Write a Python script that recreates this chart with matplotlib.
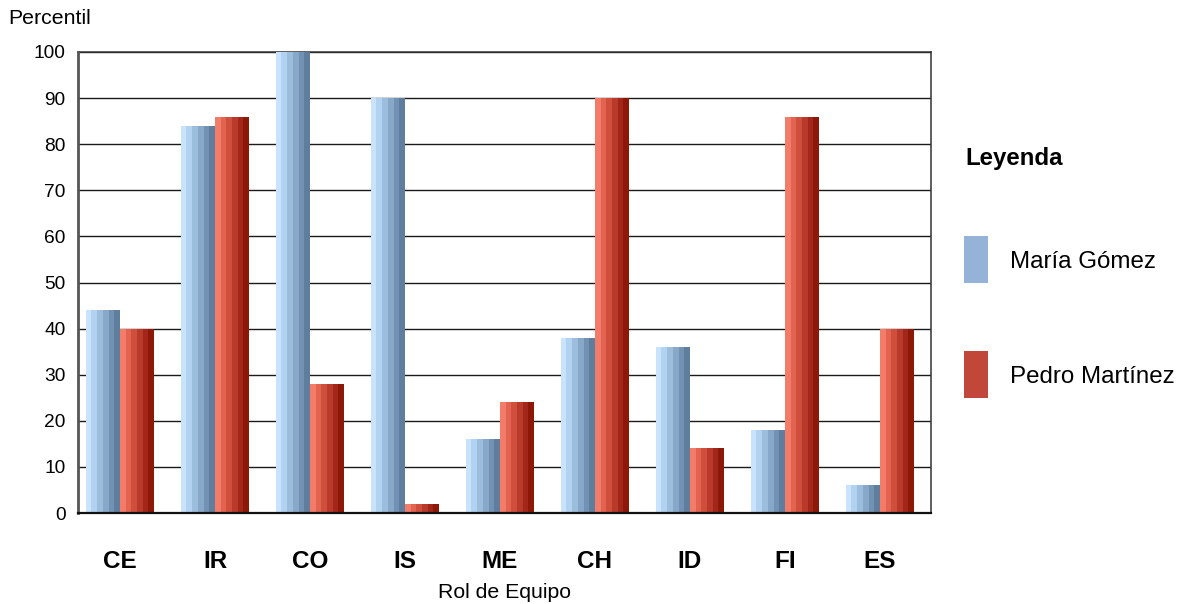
import matplotlib
matplotlib.use("Agg")
import matplotlib.pyplot as plt
from matplotlib.patches import Rectangle
import numpy as np

plt.rcParams['font.family'] = ['Liberation Sans', 'DejaVu Sans']

categories = ["CE", "IR", "CO", "IS", "ME", "CH", "ID", "FI", "ES"]
maria = [44, 84, 100, 90, 16, 38, 36, 18, 6]
pedro = [40, 86, 28, 2, 24, 90, 14, 86, 40]
series_names = ["María Gómez", "Pedro Martínez"]
yticks = list(range(0, 101, 10))

blue_stripes = ["#c8e3fb", "#b2d2f1", "#9dbddd", "#88a8c9", "#7392b3", "#5f7e9e"]
red_stripes = ["#f27b6a", "#e2634f", "#d04f3c", "#b9392a", "#a2271a", "#8e1808"]

fig = plt.figure(figsize=(11.79, 6.04), dpi=100)
ax = fig.add_axes([78/1179, 91/604, 853/1179, 461/604])

x = np.arange(len(categories))
bw = 0.36
n = len(blue_stripes)
sw = bw / n

for vals, stripes, sign in [(maria, blue_stripes, -1), (pedro, red_stripes, 1)]:
    start = x - bw if sign < 0 else x
    for k, c in enumerate(stripes):
        ax.bar(start + (k + 0.5) * sw, vals, width=sw * 1.02, color=c,
               edgecolor='none', zorder=3)

ax.set_xlim(-0.442, len(categories) - 1 + 0.537)
ax.set_ylim(0, 100)
ax.set_yticks(yticks)
ax.set_yticklabels([str(t) for t in yticks], fontsize=13.8)
ax.yaxis.grid(True, color='#1a1a1a', linewidth=1.0, zorder=1)
ax.set_axisbelow(True)
ax.set_xticks(x)
ax.set_xticklabels(categories, fontsize=17.5, fontweight='bold')
ax.tick_params(axis='both', length=0)
ax.tick_params(axis='x', pad=27)
ax.tick_params(axis='y', pad=9)

for s in ['top', 'right']:
    ax.spines[s].set_color('#333333')
    ax.spines[s].set_linewidth(1.1)
ax.spines['left'].set_color('#555555')
ax.spines['left'].set_linewidth(2)
ax.spines['bottom'].set_color('#111111')
ax.spines['bottom'].set_linewidth(1.6)
ax.spines['left'].set_zorder(4)
ax.spines['bottom'].set_zorder(4)

fig.text(504/1179, 1 - 593/604, "Rol de Equipo", ha='center', va='center', fontsize=15.3)
fig.text(8/1179, 1 - 18/604, "Percentil", ha='left', va='center', fontsize=15.3)

# legend
fig.text(965/1179, 1 - 158/604, "Leyenda", ha='left', va='center', fontsize=17.3, fontweight='bold')
leg_colors = ["#95b3d7", "#c0473a"]
leg_y = [236, 351]
for name, col, yy in zip(series_names, leg_colors, leg_y):
    fig.patches.append(Rectangle((964/1179, 1 - (yy + 47)/604), 24/1179, 47/604,
                                 transform=fig.transFigure, facecolor=col, edgecolor='none'))
    fig.text(1010/1179, 1 - (yy + 26)/604, name, ha='left', va='center', fontsize=17.4)

fig.savefig("out.png", dpi=100)
